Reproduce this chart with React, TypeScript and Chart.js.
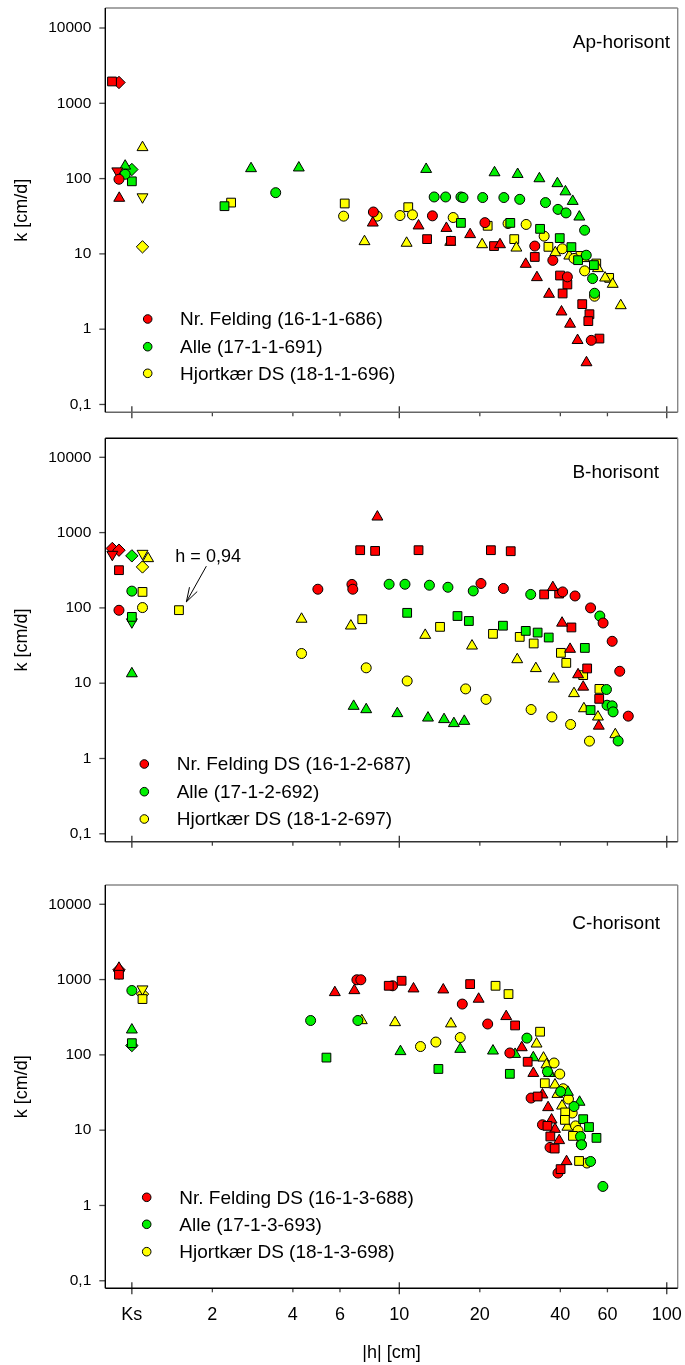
import React, { useEffect, useRef } from 'react';
import { Chart, registerables } from 'chart.js';
Chart.register(...registerables);

type P = [number, number];

// ---------- tick definitions ----------
const X_TICKS = [1, 2, 4, 6, 10, 20, 40, 60, 100];
const X_TICK_LABELS = ['Ks', '2', '4', '6', '10', '20', '40', '60', '100'];
const X_MAJOR = [1, 10, 100];
const Y_TICKS = [0.1, 1, 10, 100, 1000, 10000];
const Y_TICK_LABELS = ['0,1', '1', '10', '100', '1000', '10000'];

// ---------- Ap-horisont ----------
const apRedCircle: P[] = [[0.895, 98], [8.0, 36], [13.3, 32], [20.9, 26], [32.1, 12.7], [37.5, 8.2], [42.5, 4.95], [52.2, 0.71]];
const apRedTriangle: P[] = [[0.897, 55], [7.96, 25.8], [11.8, 23.6], [15.0, 21.9], [18.4, 18.1], [23.8, 13.3], [29.7, 7.3], [32.7, 4.86], [36.3, 2.92], [40.4, 1.7], [43.5, 1.17], [46.4, 0.71], [50.1, 0.36]];
const apRedSquare: P[] = [[0.843, 1950], [12.7, 15.7], [15.6, 14.9], [22.6, 12.7], [32.1, 9.1], [39.9, 5.16], [42.5, 3.92], [40.8, 2.98], [48.3, 2.15], [51.4, 1.58], [50.9, 1.28], [56.0, 0.75]];
const apRedDiamond: P[] = [[0.895, 1890]];
const apRedInvTriangle: P[] = [[0.882, 126]];
const apGreenCircle: P[] = [[0.944, 114], [3.45, 65], [13.5, 57], [14.9, 57], [17.0, 57], [17.3, 56], [20.5, 56], [24.6, 56], [28.2, 53], [35.2, 48], [39.2, 39], [42.0, 35], [49.3, 20.6], [50.0, 9.6], [52.8, 4.7], [53.7, 3.0]];
const apGreenTriangle: P[] = [[0.944, 147], [2.79, 136], [4.21, 139], [12.6, 133], [22.7, 120], [27.7, 114], [33.4, 100], [39.0, 86], [41.8, 67], [44.5, 50], [47.1, 31]];
const apGreenSquare: P[] = [[1.0, 92], [2.22, 43], [17.0, 25.8], [26.0, 25.8], [33.6, 21.5], [39.8, 16.2], [44.0, 12.3], [46.6, 8.25], [53.4, 7.1]];
const apGreenDiamond: P[] = [[1.0, 132]];
const apYellowCircle: P[] = [[6.19, 31.7], [8.26, 31.7], [10.06, 32.3], [11.2, 33], [15.9, 30.4], [25.5, 25.3], [29.8, 24.6], [34.8, 17.2], [40.7, 11.7], [45.0, 8.7], [49.3, 5.95], [53.7, 2.74]];
const apYellowTriangle: P[] = [[1.096, 259], [7.41, 14.6], [10.65, 13.9], [15.5, 14.3], [20.4, 13.3], [27.4, 12.0], [38.3, 10.4], [43.2, 9.4], [49.0, 8.7], [55.3, 6.4], [58.8, 4.8], [62.8, 3.96], [67.3, 2.06]];
const apYellowSquare: P[] = [[2.35, 48], [6.25, 46.7], [10.8, 41.7], [21.4, 23.6], [26.9, 15.7], [36.1, 12.4], [47.6, 9.4], [54.5, 7.45], [60.9, 4.8]];
const apYellowDiamond: P[] = [[1.096, 12.4]];
const apYellowInvTriangle: P[] = [[1.096, 57]];

// ---------- B-horisont ----------
const bRedCircle: P[] = [[0.895, 93], [4.96, 177], [6.65, 205], [6.7, 177], [20.2, 211], [24.5, 181], [40.8, 163], [45.4, 144], [51.9, 100], [57.8, 63], [62.5, 36], [66.7, 14.4], [71.8, 3.65]];
const bRedTriangle: P[] = [[8.28, 1617], [37.5, 187], [40.6, 63], [43.5, 28.3], [46.6, 13.0], [48.7, 8.9], [55.7, 2.7]];
const bRedSquare: P[] = [[0.895, 317], [7.14, 584], [8.12, 571], [11.8, 584], [22.0, 584], [26.1, 566], [34.8, 151], [39.6, 155], [44.0, 55], [50.4, 15.7], [55.9, 6.2]];
const bRedDiamond: P[] = [[0.845, 615], [0.895, 584]];
const bRedInvTriangle: P[] = [[0.845, 512]];
const bGreenCircle: P[] = [[1.0, 167], [9.16, 206], [10.5, 206], [12.96, 200], [15.2, 188], [18.9, 168], [31.0, 151], [56.2, 78], [59.5, 8.25], [59.8, 5.1], [62.5, 5.0], [63.0, 4.16], [65.8, 1.71]];
const bGreenTriangle: P[] = [[1.0, 13.4], [6.75, 4.95], [7.52, 4.47], [9.83, 3.96], [12.8, 3.46], [14.7, 3.3], [16.0, 2.92], [17.5, 3.13]];
const bGreenSquare: P[] = [[1.0, 76], [10.7, 86], [16.5, 78], [18.2, 67], [24.4, 58], [29.7, 49.5], [32.9, 47], [36.2, 40.4], [49.4, 29.4], [51.9, 4.4]];
const bGreenDiamond: P[] = [[1.0, 491]];
const bGreenInvTriangle: P[] = [[1.0, 65]];
const bYellowCircle: P[] = [[1.096, 101], [4.31, 24.8], [7.52, 16.0], [10.7, 10.7], [17.7, 8.4], [21.1, 6.1], [31.1, 4.47], [37.2, 3.57], [43.7, 2.83], [51.4, 1.7]];
const bYellowTriangle: P[] = [[1.15, 453], [4.31, 71], [6.59, 57.7], [12.5, 43.4], [18.7, 31.3], [27.6, 20.6], [32.4, 15.7], [37.8, 11.4], [45.0, 7.3], [49.0, 4.6], [55.3, 3.57], [64.2, 2.08]];
const bYellowSquare: P[] = [[1.096, 163], [1.5, 93.3], [7.27, 70.8], [14.2, 56], [22.4, 45.2], [28.2, 41.2], [31.8, 33.7], [40.2, 25.3], [42.1, 18.6], [48.7, 12.8], [56.0, 8.4]];
const bYellowDiamond: P[] = [[1.096, 350]];
const bYellowInvTriangle: P[] = [[1.096, 528]];

// ---------- C-horisont ----------
const cRedCircle: P[] = [[6.94, 994], [7.18, 994], [9.44, 827], [17.2, 473], [21.4, 257], [25.9, 106], [31.1, 26.7], [34.3, 11.8], [36.6, 5.9], [39.2, 2.69]];
const cRedTriangle: P[] = [[0.895, 1420], [5.74, 674], [6.79, 716], [11.3, 755], [14.6, 732], [19.8, 551], [25.1, 324], [28.7, 125], [31.7, 57], [34.3, 29.5], [36.0, 20.0], [37.1, 13.7], [38.2, 10.3], [39.6, 7.3], [42.2, 3.84]];
const cRedSquare: P[] = [[0.895, 1160], [9.13, 827], [10.2, 964], [18.4, 871], [27.1, 246], [30.2, 81], [32.9, 28.0], [35.8, 11.4], [36.7, 8.25], [38.1, 5.7], [40.1, 3.04]];
const cRedDiamond: P[] = [[0.895, 1350]];
const cRedInvTriangle: P[] = [[0.895, 1220]];
const cGreenCircle: P[] = [[1.0, 716], [4.66, 286], [7.0, 286], [30.0, 167], [35.8, 60], [40.1, 32.6], [45.0, 20.6], [47.6, 8.25], [48.0, 6.4], [51.9, 3.84], [57.7, 1.79]];
const cGreenTriangle: P[] = [[1.0, 215], [10.1, 111], [16.9, 119], [22.4, 113], [27.1, 102], [31.7, 92], [36.3, 57], [42.7, 32], [47.2, 23.6]];
const cGreenSquare: P[] = [[1.0, 143], [5.34, 92], [14.0, 65], [25.9, 56], [48.7, 14.0], [51.2, 11.0], [54.6, 7.9]];
const cGreenDiamond: P[] = [[1.0, 133]];
const cYellowCircle: P[] = [[12.0, 129], [13.7, 148], [16.9, 170], [37.9, 78], [39.8, 55.6], [41.0, 35.5], [42.9, 25.9], [44.3, 16.9], [45.6, 11.4], [46.6, 9.9], [47.9, 6.5], [50.3, 3.66]];
const cYellowTriangle: P[] = [[7.24, 286], [9.64, 269], [15.6, 259], [32.6, 140], [34.6, 91], [35.5, 74], [36.6, 57], [38.2, 40], [39.0, 30], [40.6, 21], [42.5, 11]];
const cYellowSquare: P[] = [[1.096, 551], [22.9, 827], [25.6, 642], [33.6, 203], [35.0, 42], [41.7, 17.2], [41.6, 13.7], [44.6, 8.4], [47.0, 3.9]];
const cYellowDiamond: P[] = [[1.096, 642]];
const cYellowInvTriangle: P[] = [[1.096, 748]];

// ---------- labels ----------
const apLegend = ['Nr. Felding (16-1-1-686)', 'Alle (17-1-1-691)', 'Hjortkær DS (18-1-1-696)'];
const bLegend = ['Nr. Felding DS (16-1-2-687)', 'Alle (17-1-2-692)', 'Hjortkær DS (18-1-2-697)'];
const cLegend = ['Nr. Felding DS (16-1-3-688)', 'Alle (17-1-3-693)', 'Hjortkær DS (18-1-3-698)'];

// ---------- styling ----------
const FONT = '"Liberation Sans", Arial, Helvetica, sans-serif';
const RED = '#ff0000';
const GREEN = '#00f000';
const YELLOW = '#ffff00';
const SITE_COLORS = [RED, GREEN, YELLOW];

const SHAPES: Record<string, { style: string; r: number; rot: number }> = {
  circle: { style: 'circle', r: 5, rot: 0 },
  triangle: { style: 'triangle', r: 6.3, rot: 0 },
  square: { style: 'rect', r: 6.2, rot: 0 },
  diamond: { style: 'rectRot', r: 6.2, rot: 0 },
  inv: { style: 'triangle', r: 6.3, rot: 180 },
};

type Series = { color: string; shape: string; data: P[] };

type PanelCfg = {
  top: number;
  height: number;
  padTop: number;
  xAxisH: number;
  yMin: number;
  yMax: number;
  showX: boolean;
  title: string;
  titleRight: number;
  titleDy: number;
  legend: string[];
  legendX: number;
  legendTextX: number;
  legendDy: number[];
  topColor: string;
  bottomColor: string;
  series: Series[];
  note?: { at: P; text: string };
};

const XMIN = Math.pow(10, -0.0993);
const XMAX = Math.pow(10, 2.0409);

const PANELS: PanelCfg[] = [
  {
    top: 0, height: 425, padTop: 8, xAxisH: 12.7,
    yMin: Math.pow(10, -1.104), yMax: Math.pow(10, 4.2656), showX: false,
    title: 'Ap-horisont', titleRight: 670, titleDy: 34.7,
    legend: apLegend, legendX: 147.7, legendTextX: 180, legendDy: [311, 338.7, 365.3],
    topColor: '#888', bottomColor: '#666',
    series: [
      { color: RED, shape: 'circle', data: apRedCircle },
      { color: RED, shape: 'triangle', data: apRedTriangle },
      { color: RED, shape: 'square', data: apRedSquare },
      { color: RED, shape: 'diamond', data: apRedDiamond },
      { color: RED, shape: 'inv', data: apRedInvTriangle },
      { color: GREEN, shape: 'circle', data: apGreenCircle },
      { color: GREEN, shape: 'triangle', data: apGreenTriangle },
      { color: GREEN, shape: 'square', data: apGreenSquare },
      { color: GREEN, shape: 'diamond', data: apGreenDiamond },
      { color: YELLOW, shape: 'circle', data: apYellowCircle },
      { color: YELLOW, shape: 'triangle', data: apYellowTriangle },
      { color: YELLOW, shape: 'square', data: apYellowSquare },
      { color: YELLOW, shape: 'diamond', data: apYellowDiamond },
      { color: YELLOW, shape: 'inv', data: apYellowInvTriangle },
    ],
  },
  {
    top: 425, height: 435, padTop: 13.3, xAxisH: 18.3,
    yMin: Math.pow(10, -1.105), yMax: Math.pow(10, 4.2523), showX: false,
    title: 'B-horisont', titleRight: 659, titleDy: 34.4,
    legend: bLegend, legendX: 144.3, legendTextX: 176.7, legendDy: [325.7, 353.4, 380.7],
    topColor: '#000', bottomColor: '#333',
    series: [
      { color: RED, shape: 'circle', data: bRedCircle },
      { color: RED, shape: 'triangle', data: bRedTriangle },
      { color: RED, shape: 'square', data: bRedSquare },
      { color: RED, shape: 'inv', data: bRedInvTriangle },
      { color: RED, shape: 'diamond', data: bRedDiamond },
      { color: GREEN, shape: 'circle', data: bGreenCircle },
      { color: GREEN, shape: 'triangle', data: bGreenTriangle },
      { color: GREEN, shape: 'square', data: bGreenSquare },
      { color: GREEN, shape: 'diamond', data: bGreenDiamond },
      { color: GREEN, shape: 'inv', data: bGreenInvTriangle },
      { color: YELLOW, shape: 'circle', data: bYellowCircle },
      { color: YELLOW, shape: 'triangle', data: bYellowTriangle },
      { color: YELLOW, shape: 'square', data: bYellowSquare },
      { color: YELLOW, shape: 'inv', data: bYellowInvTriangle },
      { color: YELLOW, shape: 'diamond', data: bYellowDiamond },
    ],
    note: { at: bYellowSquare[1], text: 'h = 0,94' },
  },
  {
    top: 860, height: 505, padTop: 25, xAxisH: 76.7,
    yMin: Math.pow(10, -1.1), yMax: Math.pow(10, 4.256), showX: true,
    title: 'C-horisont', titleRight: 660, titleDy: 38.3,
    legend: cLegend, legendX: 146.7, legendTextX: 179.3, legendDy: [312.3, 339.3, 366.7],
    topColor: '#888', bottomColor: '#000',
    series: [
      { color: RED, shape: 'square', data: cRedSquare },
      { color: RED, shape: 'circle', data: cRedCircle },
      { color: RED, shape: 'triangle', data: cRedTriangle },
      { color: RED, shape: 'inv', data: cRedInvTriangle },
      { color: RED, shape: 'diamond', data: cRedDiamond },
      { color: GREEN, shape: 'circle', data: cGreenCircle },
      { color: GREEN, shape: 'triangle', data: cGreenTriangle },
      { color: GREEN, shape: 'square', data: cGreenSquare },
      { color: GREEN, shape: 'diamond', data: cGreenDiamond },
      { color: YELLOW, shape: 'square', data: cYellowSquare },
      { color: YELLOW, shape: 'circle', data: cYellowCircle },
      { color: YELLOW, shape: 'triangle', data: cYellowTriangle },
      { color: YELLOW, shape: 'inv', data: cYellowInvTriangle },
      { color: YELLOW, shape: 'diamond', data: cYellowDiamond },
    ],
  },
];

function makeDecor(cfg: PanelCfg) {
  return {
    id: 'decor',
    beforeDatasetsDraw(chart: any) {
      const { ctx, chartArea: a, scales } = chart;
      const xs = scales.x;
      const ys = scales.y;
      const L = a.left, R = a.right, T = a.top, B = a.bottom;
      const line = (x1: number, y1: number, x2: number, y2: number, c: string, w: number) => {
        ctx.strokeStyle = c;
        ctx.lineWidth = w;
        ctx.beginPath();
        ctx.moveTo(x1, y1);
        ctx.lineTo(x2, y2);
        ctx.stroke();
      };
      ctx.save();
      X_TICKS.forEach((v) => {
        const px = xs.getPixelForValue(v);
        if (X_MAJOR.includes(v)) line(px, B - 6, px, B + 6, '#333', 1.3);
        else line(px, B, px, B + 4, '#444', 1.3);
      });
      Y_TICKS.forEach((v) => {
        const py = ys.getPixelForValue(v);
        line(L - 6, py, L, py, '#444', 1.3);
      });
      line(L, T, R, T, cfg.topColor, 1.4);
      line(R, T, R, B, '#888', 1.4);
      line(L, B, R, B, cfg.bottomColor, 1.4);
      line(L, T, L, B, '#000', 1.4);
      ctx.restore();
    },
    afterDatasetsDraw(chart: any) {
      const { ctx, chartArea: a, scales } = chart;
      ctx.save();
      ctx.fillStyle = '#000';
      ctx.font = `19px ${FONT}`;
      ctx.textBaseline = 'middle';
      ctx.textAlign = 'right';
      ctx.fillText(cfg.title, cfg.titleRight, a.top + cfg.titleDy);
      ctx.textAlign = 'left';
      cfg.legend.forEach((label, i) => {
        const y = a.top + cfg.legendDy[i];
        ctx.beginPath();
        ctx.arc(cfg.legendX, y, 4.3, 0, Math.PI * 2);
        ctx.fillStyle = SITE_COLORS[i];
        ctx.fill();
        ctx.lineWidth = 1;
        ctx.strokeStyle = '#000';
        ctx.stroke();
        ctx.fillStyle = '#000';
        ctx.fillText(label, cfg.legendTextX, y + 1);
      });
      if (cfg.note) {
        ctx.font = `18px ${FONT}`;
        const px = scales.x.getPixelForValue(cfg.note.at[0]);
        const py = scales.y.getPixelForValue(cfg.note.at[1]);
        ctx.fillText(cfg.note.text, px - 3.6, py - 53.3);
        const tx = px + 7.4, ty = py - 8.3;
        const sx = px + 27.4, sy = py - 44;
        ctx.strokeStyle = '#000';
        ctx.lineWidth = 1;
        ctx.beginPath();
        ctx.moveTo(sx, sy);
        ctx.lineTo(tx, ty);
        const ang = Math.atan2(sy - ty, sx - tx);
        const len = 15;
        ctx.moveTo(tx + Math.cos(ang - 0.3) * len, ty + Math.sin(ang - 0.3) * len);
        ctx.lineTo(tx, ty);
        ctx.lineTo(tx + Math.cos(ang + 0.3) * len, ty + Math.sin(ang + 0.3) * len);
        ctx.stroke();
      }
      ctx.restore();
    },
  };
}

function Panel({ cfg }: { cfg: PanelCfg }) {
  const ref = useRef<HTMLCanvasElement>(null);
  useEffect(() => {
    const canvas = ref.current;
    if (!canvas) return;
    const datasets = cfg.series.map((s) => {
      const sh = SHAPES[s.shape];
      return {
        data: s.data.map(([x, y]) => ({ x, y })),
        pointStyle: sh.style,
        pointRadius: sh.r,
        pointRotation: sh.rot,
        pointBackgroundColor: s.color,
        pointBorderColor: '#000',
        pointBorderWidth: 1,
        showLine: false,
      };
    });
    const chart = new Chart(canvas, {
      type: 'scatter',
      data: { datasets } as any,
      options: {
        animation: false,
        responsive: false,
        devicePixelRatio: 1,
        events: [],
        layout: { padding: { top: cfg.padTop, right: 4, bottom: 0, left: 0 } },
        plugins: { legend: { display: false }, tooltip: { enabled: false } },
        scales: {
          x: {
            type: 'logarithmic',
            position: 'bottom',
            min: XMIN,
            max: XMAX,
            bounds: 'data',
            afterBuildTicks: (s: any) => {
              s.ticks = X_TICKS.map((v) => ({ value: v }));
            },
            afterFit: (s: any) => {
              s.height = cfg.xAxisH;
              s.paddingLeft = 0;
              s.paddingRight = 0;
              s.paddingTop = 0;
              s.paddingBottom = 0;
            },
            grid: { display: false, drawTicks: false },
            border: { display: false },
            ticks: {
              display: cfg.showX,
              autoSkip: false,
              maxRotation: 0,
              minRotation: 0,
              padding: 16,
              color: '#000',
              font: { family: FONT, size: 18 },
              callback: (_v: any, i: number) => X_TICK_LABELS[i],
            },
            title: {
              display: cfg.showX,
              text: '|h| [cm]',
              color: '#000',
              font: { family: FONT, size: 18 },
              padding: { top: 0, bottom: 1.2 },
            },
          },
          y: {
            type: 'logarithmic',
            min: cfg.yMin,
            max: cfg.yMax,
            bounds: 'data',
            afterBuildTicks: (s: any) => {
              s.ticks = Y_TICKS.map((v) => ({ value: v }));
            },
            afterFit: (s: any) => {
              s.width = 105.3;
              s.paddingLeft = 0;
              s.paddingRight = 0;
              s.paddingTop = 0;
              s.paddingBottom = 0;
            },
            grid: { display: false, drawTicks: true, tickLength: 6 },
            border: { display: false },
            ticks: {
              padding: 8,
              color: '#000',
              autoSkip: false,
              font: { family: FONT, size: 15.5 },
              callback: (_v: any, i: number) => Y_TICK_LABELS[i],
            },
            title: {
              display: true,
              text: 'k [cm/d]',
              color: '#000',
              font: { family: FONT, size: 18 },
              padding: { top: 11, bottom: 0 },
            },
          },
        },
      } as any,
      plugins: [makeDecor(cfg)],
    });
    return () => chart.destroy();
  }, [cfg]);
  return (
    <div style={{ position: 'absolute', left: 0, top: cfg.top, width: 685, height: cfg.height }}>
      <canvas ref={ref} width={685} height={cfg.height} style={{ display: 'block' }} />
    </div>
  );
}

export default function App() {
  return (
    <div style={{ position: 'absolute', left: 0, top: 0, width: 685, height: 1365, background: '#fff' }}>
      {PANELS.map((p, i) => (
        <Panel key={i} cfg={p} />
      ))}
    </div>
  );
}
